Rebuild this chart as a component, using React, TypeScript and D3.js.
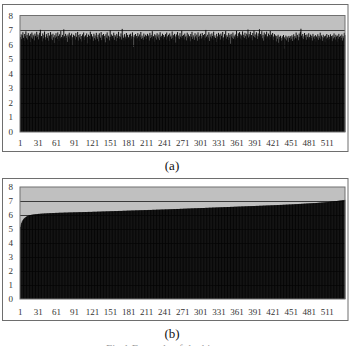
import React from 'react';
import * as d3 from 'd3';

// (a) per-bin values
const seriesA: number[] = [
  6.52,6.71,6.38,6.64,6.85,6.47,6.26,6.73,6.58,6.91,6.44,6.67,6.35,6.79,6.55,6.62,6.18,6.74,6.49,6.83,6.41,6.68,6.57,6.29,6.76,6.61,6.46,6.88,6.53,6.70,
  6.36,6.64,6.81,7.02,6.48,6.59,6.22,6.77,6.43,6.66,6.90,6.51,6.34,6.72,6.58,6.45,6.80,6.27,6.63,6.54,6.86,6.40,6.69,6.31,6.75,6.50,6.12,6.65,6.47,6.78,
  6.56,6.39,6.84,6.60,6.25,6.71,6.44,6.93,6.52,6.37,6.67,6.49,7.05,6.58,6.30,6.74,6.46,6.62,6.19,6.70,6.55,6.82,6.42,6.64,6.33,6.76,6.51,5.92,6.68,6.48,
  6.61,6.35,6.79,6.54,6.43,6.87,6.28,6.66,6.50,6.73,6.38,6.59,6.21,6.70,6.47,6.83,6.56,6.32,6.64,6.45,6.77,6.53,6.09,6.69,6.41,6.60,6.89,6.36,6.72,6.49,
  6.57,6.26,6.75,6.44,6.63,6.34,6.81,6.52,6.40,6.68,6.23,6.78,6.55,6.46,6.86,6.31,6.65,6.50,6.73,6.37,6.60,6.16,6.71,6.48,6.84,6.42,6.62,6.54,6.29,6.99,
  6.53,6.70,6.39,6.61,6.47,6.82,6.33,6.66,6.56,6.24,6.74,6.45,6.63,6.88,6.40,6.58,6.51,6.77,6.35,7.08,6.64,6.48,6.27,6.72,6.55,6.43,6.80,6.37,6.67,6.52,
  6.46,6.69,6.30,6.75,6.58,6.41,6.84,6.54,5.85,6.65,6.49,6.73,6.36,6.60,6.44,6.79,6.57,6.25,6.70,6.51,6.87,6.39,6.62,6.47,6.33,6.76,6.55,6.42,6.68,6.59,
  6.38,6.74,6.50,6.63,6.28,6.81,6.45,6.67,6.53,6.92,6.40,6.58,6.20,6.71,6.48,6.64,6.35,6.78,6.56,6.43,6.69,6.31,6.85,6.52,6.61,6.46,6.75,6.37,6.66,6.54,
  6.49,6.72,6.34,6.83,6.57,6.44,6.68,6.26,6.77,6.53,6.62,6.40,6.90,6.47,6.65,6.32,6.74,6.56,6.14,6.70,6.51,6.86,6.43,6.63,6.38,6.79,6.55,6.46,6.96,6.60,
  6.45,6.67,6.36,6.76,6.52,6.61,6.29,6.82,6.48,6.70,6.41,6.58,6.23,6.73,6.54,6.88,6.39,6.64,6.50,6.33,6.78,6.57,6.44,6.69,6.27,6.84,6.53,6.62,6.37,6.75,
  6.59,6.42,6.80,6.51,6.66,6.30,6.73,6.47,7.01,6.56,6.38,6.68,6.49,6.85,6.25,6.71,6.55,6.43,6.77,6.60,6.34,6.89,6.52,6.64,6.46,6.18,6.74,6.57,6.40,6.81,
  6.53,6.69,6.35,6.76,6.61,6.44,6.87,6.50,6.28,6.72,6.58,6.93,6.41,6.65,6.54,6.32,6.79,6.48,6.67,6.06,6.74,6.56,6.45,6.83,6.39,6.62,6.51,6.70,6.36,6.95,
  6.60,6.47,6.78,6.55,6.86,6.42,6.71,6.63,6.33,6.91,6.52,6.68,6.45,6.82,6.58,6.38,6.75,6.64,7.04,6.49,6.72,6.56,6.88,6.43,6.66,6.30,6.80,6.59,6.97,6.51,
  6.70,6.46,6.85,6.62,6.39,6.77,6.57,7.06,6.48,6.73,6.61,6.92,6.44,6.67,6.27,6.83,6.55,6.71,6.40,6.89,6.58,6.50,6.76,6.35,6.65,6.94,6.53,6.69,6.42,6.80,
  6.56,6.31,6.72,6.48,6.63,6.22,6.59,6.41,6.68,6.13,6.54,6.37,6.61,6.45,6.26,6.57,6.34,6.66,5.72,6.50,6.39,6.62,6.29,6.55,6.44,6.19,6.60,6.47,6.32,6.58,
  6.40,6.64,6.25,6.53,6.71,6.36,6.59,6.47,6.83,6.42,6.67,6.55,6.30,6.76,6.51,6.88,7.09,6.62,6.45,6.73,6.38,6.57,6.80,6.49,6.66,6.34,6.70,6.54,6.43,6.78,
  6.52,6.35,6.69,6.46,6.61,6.28,6.74,6.50,6.58,6.39,6.65,6.21,6.56,6.44,6.71,6.33,6.60,6.48,6.82,6.37,6.63,6.52,6.26,6.68,6.45,6.57,6.16,6.62,6.41,6.73,
  6.49,6.30,6.66,6.54,6.38,6.71,6.47,6.59,6.24,6.64,6.43,6.77,6.51,6.35,6.68,6.56,6.20,6.62,6.40,6.74,6.53,6.33,6.61,6.46,6.70,6.28,6.58,6.44,6.81,6.66,
];

// (b) sorted bins
const seriesB: number[] = [
  5.16,5.32,5.45,5.55,5.63,5.69,5.74,5.78,5.82,5.85,5.88,5.91,5.93,5.95,5.97,5.98,5.99,6.00,6.01,6.02,6.02,6.03,6.04,6.04,6.05,6.05,6.06,6.06,6.07,6.07,
  6.08,6.08,6.08,6.09,6.09,6.09,6.10,6.10,6.10,6.10,6.11,6.11,6.11,6.11,6.12,6.12,6.12,6.12,6.13,6.13,6.13,6.13,6.13,6.14,6.14,6.14,6.14,6.14,6.15,6.15,
  6.15,6.15,6.15,6.15,6.16,6.16,6.16,6.16,6.16,6.16,6.16,6.16,6.17,6.17,6.17,6.17,6.17,6.17,6.17,6.17,6.18,6.18,6.18,6.18,6.18,6.18,6.18,6.18,6.19,6.19,
  6.19,6.19,6.19,6.19,6.19,6.19,6.20,6.20,6.20,6.20,6.20,6.20,6.20,6.20,6.21,6.21,6.21,6.21,6.21,6.21,6.21,6.21,6.22,6.22,6.22,6.22,6.22,6.22,6.22,6.22,
  6.23,6.23,6.23,6.23,6.23,6.23,6.23,6.23,6.24,6.24,6.24,6.24,6.24,6.24,6.24,6.25,6.25,6.25,6.25,6.25,6.25,6.25,6.26,6.26,6.26,6.26,6.26,6.26,6.26,6.27,
  6.27,6.27,6.27,6.27,6.27,6.27,6.28,6.28,6.28,6.28,6.28,6.28,6.28,6.29,6.29,6.29,6.29,6.29,6.29,6.29,6.30,6.30,6.30,6.30,6.30,6.30,6.30,6.31,6.31,6.31,
  6.31,6.31,6.31,6.31,6.32,6.32,6.32,6.32,6.32,6.32,6.32,6.33,6.33,6.33,6.33,6.33,6.33,6.33,6.34,6.34,6.34,6.34,6.34,6.34,6.34,6.35,6.35,6.35,6.35,6.35,
  6.35,6.35,6.36,6.36,6.36,6.36,6.36,6.36,6.36,6.37,6.37,6.37,6.37,6.37,6.37,6.37,6.38,6.38,6.38,6.38,6.38,6.38,6.38,6.39,6.39,6.39,6.39,6.39,6.39,6.39,
  6.40,6.40,6.40,6.40,6.40,6.40,6.40,6.41,6.41,6.41,6.41,6.41,6.41,6.42,6.42,6.42,6.42,6.42,6.42,6.43,6.43,6.43,6.43,6.43,6.43,6.44,6.44,6.44,6.44,6.44,
  6.44,6.45,6.45,6.45,6.45,6.45,6.45,6.46,6.46,6.46,6.46,6.46,6.46,6.47,6.47,6.47,6.47,6.47,6.47,6.48,6.48,6.48,6.48,6.48,6.48,6.49,6.49,6.49,6.49,6.49,
  6.49,6.50,6.50,6.50,6.50,6.50,6.50,6.51,6.51,6.51,6.51,6.51,6.51,6.52,6.52,6.52,6.52,6.52,6.52,6.53,6.53,6.53,6.53,6.53,6.53,6.54,6.54,6.54,6.54,6.54,
  6.54,6.55,6.55,6.55,6.55,6.55,6.55,6.56,6.56,6.56,6.56,6.56,6.56,6.57,6.57,6.57,6.57,6.57,6.57,6.58,6.58,6.58,6.58,6.58,6.58,6.59,6.59,6.59,6.59,6.59,
  6.59,6.60,6.60,6.60,6.60,6.60,6.60,6.61,6.61,6.61,6.61,6.61,6.61,6.62,6.62,6.62,6.62,6.62,6.62,6.63,6.63,6.63,6.63,6.63,6.63,6.64,6.64,6.64,6.64,6.64,
  6.64,6.65,6.65,6.65,6.65,6.65,6.65,6.66,6.66,6.66,6.66,6.66,6.66,6.67,6.67,6.67,6.67,6.67,6.67,6.68,6.68,6.68,6.68,6.68,6.68,6.69,6.69,6.69,6.69,6.69,
  6.69,6.70,6.70,6.70,6.70,6.70,6.71,6.71,6.71,6.71,6.71,6.72,6.72,6.72,6.72,6.72,6.73,6.73,6.73,6.73,6.73,6.74,6.74,6.74,6.74,6.74,6.75,6.75,6.75,6.75,
  6.75,6.76,6.76,6.76,6.76,6.77,6.77,6.77,6.77,6.78,6.78,6.78,6.78,6.79,6.79,6.79,6.79,6.80,6.80,6.80,6.80,6.81,6.81,6.81,6.81,6.82,6.82,6.82,6.82,6.83,
  6.83,6.83,6.83,6.84,6.84,6.84,6.84,6.85,6.85,6.85,6.85,6.86,6.86,6.86,6.87,6.87,6.87,6.88,6.88,6.88,6.89,6.89,6.89,6.90,6.90,6.90,6.91,6.91,6.92,6.92,
  6.92,6.93,6.93,6.94,6.94,6.95,6.95,6.96,6.96,6.97,6.97,6.98,6.98,6.99,6.99,7.00,7.00,7.01,7.01,7.02,7.02,7.03,7.03,7.04,7.04,7.05,7.05,7.06,7.07,7.08,
];

const yTicks = [0, 1, 2, 3, 4, 5, 6, 7, 8];
const xTickLabels = [1, 31, 61, 91, 121, 151, 181, 211, 241, 271, 301, 331, 361, 391, 421, 451, 481, 511];

const FONT = '"Liberation Serif", "DejaVu Serif", serif';

interface PanelProps {
  values: number[];
  frameTop: number;
  frameBottom: number;
  plotTop: number;
  plotBottom: number;
  labelY: number;
}

const Panel: React.FC<PanelProps> = ({ values, frameTop, frameBottom, plotTop, plotBottom, labelY }) => {
  const left = 20;
  const right = 345;
  const cats = values.map((_, i) => i + 1);

  const x = d3.scaleBand<number>().domain(cats).range([left, right]).padding(0);
  const y = d3.scaleLinear().domain([0, 8]).range([plotBottom, plotTop]);
  const bw = x.bandwidth();

  return (
    <g>
      {/* chart frame */}
      <rect x={2.5} y={frameTop + 0.5} width={345.5} height={frameBottom - frameTop}
        fill="#fff" stroke="#6e6e6e" strokeWidth={1} />
      {/* plot area */}
      <rect x={left} y={y(8)} width={right - left} height={y(0) - y(8)} fill="#c0c0c0" />
      {yTicks.slice(1, -1).map(t => (
        <line key={t} x1={left} x2={right} y1={Math.round(y(t)) + 0.5} y2={Math.round(y(t)) + 0.5}
          stroke="#3a3a3a" strokeWidth={1} />
      ))}
      {values.map((v, i) => (
        <rect key={i} x={x(i + 1)} y={y(v)} width={bw + 0.35} height={y(0) - y(v)} fill="#050505" />
      ))}
      <rect x={left} y={y(8)} width={right - left} height={y(0) - y(8)} fill="none"
        stroke="#707070" strokeWidth={1} />
      {yTicks.map(t => (
        <text key={t} x={13} y={y(t) + 3} textAnchor="end" fontSize={9} fontFamily={FONT} fill="#333">
          {t}
        </text>
      ))}
      {xTickLabels.map(c => (
        <text key={c} x={(x(c) ?? 0) + bw / 2} y={labelY} textAnchor="middle" fontSize={9}
          fontFamily={FONT} fill="#333">
          {c}
        </text>
      ))}
    </g>
  );
};

export default function App() {
  return (
    <svg width={353} height={346} style={{ position: 'absolute', left: 0, top: 0, background: '#fff' }}>
      <Panel values={seriesA} frameTop={4} frameBottom={151} plotTop={15.5} plotBottom={132} labelY={146} />
      <text x={172} y={170} textAnchor="middle" fontSize={13} fontFamily={FONT} fill="#111">(a)</text>
      <Panel values={seriesB} frameTop={178} frameBottom={320} plotTop={187} plotBottom={299} labelY={315} />
      <text x={172} y={338} textAnchor="middle" fontSize={13} fontFamily={FONT} fill="#111">(b)</text>
      <text x={178} y={352} textAnchor="middle" fontSize={11} fontFamily={FONT} fill="#999">
        Fig.1  Example of the histograms
      </text>
    </svg>
  );
}
